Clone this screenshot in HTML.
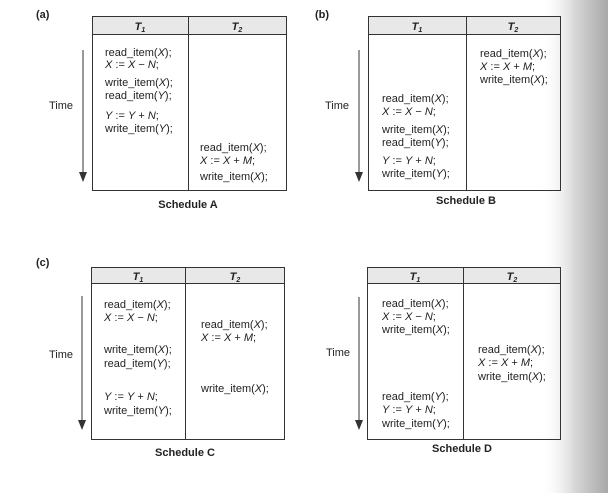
<!DOCTYPE html>
<html><head><meta charset="utf-8"><style>
html,body{margin:0;padding:0}
body{width:613px;height:493px;overflow:hidden;background:#fff}
svg text{font-family:"Liberation Sans",sans-serif;font-size:11px;fill:#222}
</style></head><body>
<svg width="613" height="493" xmlns="http://www.w3.org/2000/svg">
<defs>
<linearGradient id="g" x1="0" x2="1" y1="0" y2="0">
<stop offset="0" stop-color="#fff" stop-opacity="0"/>
<stop offset="0.5" stop-color="#d8d8d8"/>
<stop offset="1" stop-color="#a8a8a8"/>
</linearGradient>
</defs>
<rect x="540" y="0" width="68" height="493" fill="url(#g)"/>
<g stroke="#333" stroke-width="1" fill="none">
<!-- A -->
<rect x="92.5" y="16.5" width="194" height="18" fill="#e8e8e8"/>
<rect x="92.5" y="16.5" width="194" height="174"/>
<line x1="188.5" y1="16" x2="188.5" y2="190"/>
<line x1="83" y1="50" x2="83" y2="174"/>
<!-- B -->
<rect x="368.5" y="16.5" width="192" height="18" fill="#e8e8e8"/>
<rect x="368.5" y="16.5" width="192" height="174"/>
<line x1="466.5" y1="16" x2="466.5" y2="190"/>
<line x1="359" y1="50" x2="359" y2="174"/>
<!-- C -->
<rect x="91.5" y="267.5" width="193" height="16" fill="#e8e8e8"/>
<rect x="91.5" y="267.5" width="193" height="172"/>
<line x1="185.5" y1="267" x2="185.5" y2="439"/>
<line x1="82" y1="296" x2="82" y2="422"/>
<!-- D -->
<rect x="367.5" y="267.5" width="193" height="16" fill="#e8e8e8"/>
<rect x="367.5" y="267.5" width="193" height="172"/>
<line x1="463.5" y1="267" x2="463.5" y2="439"/>
<line x1="359" y1="297" x2="359" y2="422"/>
</g>
<g fill="#333">
<path d="M79,172 L87,172 L83,182 Z"/>
<path d="M355,172 L363,172 L359,182 Z"/>
<path d="M78,420 L86,420 L82,430 Z"/>
<path d="M355,420 L363,420 L359,430 Z"/>
</g>
<text x="36" y="18" style="font-weight:bold">(a)</text>
<text x="315" y="18" style="font-weight:bold">(b)</text>
<text x="36" y="266" style="font-weight:bold">(c)</text>
<text x="188" y="208" text-anchor="middle" style="font-weight:bold">Schedule A</text>
<text x="466" y="204" text-anchor="middle" style="font-weight:bold">Schedule B</text>
<text x="185" y="456" text-anchor="middle" style="font-weight:bold">Schedule C</text>
<text x="462" y="452" text-anchor="middle" style="font-weight:bold">Schedule D</text>
<text x="140" y="30" text-anchor="middle" style="font-weight:bold;font-style:italic">T<tspan font-size="7" dy="2">1</tspan></text>
<text x="237" y="30" text-anchor="middle" style="font-weight:bold;font-style:italic">T<tspan font-size="7" dy="2">2</tspan></text>
<text x="417" y="30" text-anchor="middle" style="font-weight:bold;font-style:italic">T<tspan font-size="7" dy="2">1</tspan></text>
<text x="513" y="30" text-anchor="middle" style="font-weight:bold;font-style:italic">T<tspan font-size="7" dy="2">2</tspan></text>
<text x="138" y="280" text-anchor="middle" style="font-weight:bold;font-style:italic">T<tspan font-size="7" dy="2">1</tspan></text>
<text x="235" y="280" text-anchor="middle" style="font-weight:bold;font-style:italic">T<tspan font-size="7" dy="2">2</tspan></text>
<text x="415" y="280" text-anchor="middle" style="font-weight:bold;font-style:italic">T<tspan font-size="7" dy="2">1</tspan></text>
<text x="512" y="280" text-anchor="middle" style="font-weight:bold;font-style:italic">T<tspan font-size="7" dy="2">2</tspan></text>
<text x="49" y="109">Time</text>
<text x="325" y="109">Time</text>
<text x="49" y="358">Time</text>
<text x="326" y="356">Time</text>
<g dominant-baseline="middle">
<text x="105" y="53">read_item(<tspan font-style="italic">X</tspan>);</text>
<text x="105" y="65"><tspan font-style="italic">X</tspan> := <tspan font-style="italic">X</tspan> − <tspan font-style="italic">N</tspan>;</text>
<text x="105" y="83">write_item(<tspan font-style="italic">X</tspan>);</text>
<text x="105" y="96">read_item(<tspan font-style="italic">Y</tspan>);</text>
<text x="105" y="116"><tspan font-style="italic">Y</tspan> := <tspan font-style="italic">Y</tspan> + <tspan font-style="italic">N</tspan>;</text>
<text x="105" y="129">write_item(<tspan font-style="italic">Y</tspan>);</text>
<text x="200" y="148">read_item(<tspan font-style="italic">X</tspan>);</text>
<text x="200" y="161"><tspan font-style="italic">X</tspan> := <tspan font-style="italic">X</tspan> + <tspan font-style="italic">M</tspan>;</text>
<text x="200" y="177">write_item(<tspan font-style="italic">X</tspan>);</text>
<text x="480" y="54">read_item(<tspan font-style="italic">X</tspan>);</text>
<text x="480" y="67"><tspan font-style="italic">X</tspan> := <tspan font-style="italic">X</tspan> + <tspan font-style="italic">M</tspan>;</text>
<text x="480" y="80">write_item(<tspan font-style="italic">X</tspan>);</text>
<text x="382" y="99">read_item(<tspan font-style="italic">X</tspan>);</text>
<text x="382" y="112"><tspan font-style="italic">X</tspan> := <tspan font-style="italic">X</tspan> − <tspan font-style="italic">N</tspan>;</text>
<text x="382" y="130">write_item(<tspan font-style="italic">X</tspan>);</text>
<text x="382" y="143">read_item(<tspan font-style="italic">Y</tspan>);</text>
<text x="382" y="161"><tspan font-style="italic">Y</tspan> := <tspan font-style="italic">Y</tspan> + <tspan font-style="italic">N</tspan>;</text>
<text x="382" y="174">write_item(<tspan font-style="italic">Y</tspan>);</text>
<text x="104" y="305">read_item(<tspan font-style="italic">X</tspan>);</text>
<text x="104" y="318"><tspan font-style="italic">X</tspan> := <tspan font-style="italic">X</tspan> − <tspan font-style="italic">N</tspan>;</text>
<text x="104" y="350">write_item(<tspan font-style="italic">X</tspan>);</text>
<text x="104" y="364">read_item(<tspan font-style="italic">Y</tspan>);</text>
<text x="104" y="397"><tspan font-style="italic">Y</tspan> := <tspan font-style="italic">Y</tspan> + <tspan font-style="italic">N</tspan>;</text>
<text x="104" y="411">write_item(<tspan font-style="italic">Y</tspan>);</text>
<text x="201" y="325">read_item(<tspan font-style="italic">X</tspan>);</text>
<text x="201" y="338"><tspan font-style="italic">X</tspan> := <tspan font-style="italic">X</tspan> + <tspan font-style="italic">M</tspan>;</text>
<text x="201" y="389">write_item(<tspan font-style="italic">X</tspan>);</text>
<text x="382" y="304">read_item(<tspan font-style="italic">X</tspan>);</text>
<text x="382" y="317"><tspan font-style="italic">X</tspan> := <tspan font-style="italic">X</tspan> − <tspan font-style="italic">N</tspan>;</text>
<text x="382" y="330">write_item(<tspan font-style="italic">X</tspan>);</text>
<text x="478" y="350">read_item(<tspan font-style="italic">X</tspan>);</text>
<text x="478" y="363"><tspan font-style="italic">X</tspan> := <tspan font-style="italic">X</tspan> + <tspan font-style="italic">M</tspan>;</text>
<text x="478" y="377">write_item(<tspan font-style="italic">X</tspan>);</text>
<text x="382" y="397">read_item(<tspan font-style="italic">Y</tspan>);</text>
<text x="382" y="410"><tspan font-style="italic">Y</tspan> := <tspan font-style="italic">Y</tspan> + <tspan font-style="italic">N</tspan>;</text>
<text x="382" y="424">write_item(<tspan font-style="italic">Y</tspan>);</text>
</g>
</svg>
</body></html>
